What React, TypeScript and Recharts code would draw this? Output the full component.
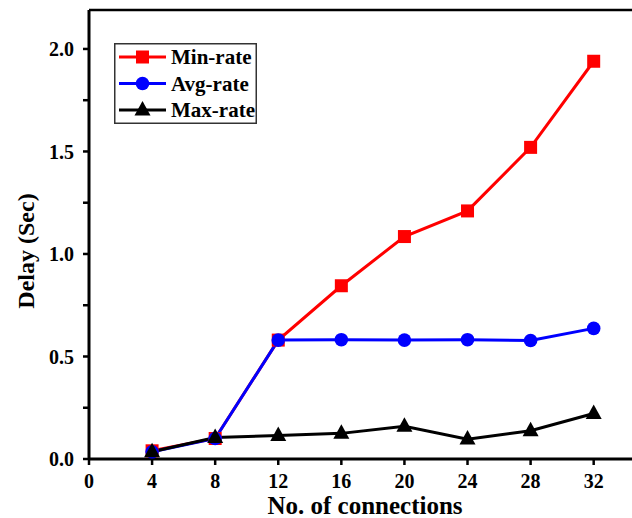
import { LineChart, Line, XAxis, YAxis, ReferenceLine } from "recharts";

const connections = [4, 8, 12, 16, 20, 24, 28, 32];
const minRate = [0.04, 0.1, 0.58, 0.845, 1.085, 1.21, 1.52, 1.94];
const avgRate = [0.035, 0.1, 0.58, 0.582, 0.58, 0.582, 0.578, 0.637];
const maxRate = [0.035, 0.105, 0.115, 0.125, 0.16, 0.097, 0.138, 0.222];

const xTicks = [0, 4, 8, 12, 16, 20, 24, 28, 32];
const yTicks = [0, 0.25, 0.5, 0.75, 1, 1.25, 1.5, 1.75, 2];

const FONT = '"Liberation Serif", "Times New Roman", serif';
const Y_MAX = 2.19;

const data = connections.map((c, i) => ({
  conn: c,
  min: minRate[i],
  avg: avgRate[i],
  max: maxRate[i],
}));

function Marker({ kind, cx, cy }: { kind: string; cx: number; cy: number }) {
  if (kind === "min") {
    return <rect x={cx - 6.5} y={cy - 6.5} width={13} height={13} fill="#ff0000" />;
  }
  if (kind === "avg") {
    return <circle cx={cx} cy={cy} r={6.8} fill="#0000ff" />;
  }
  return (
    <polygon
      points={`${cx},${cy - 9} ${cx - 8},${cy + 5.5} ${cx + 8},${cy + 5.5}`}
      fill="#000"
    />
  );
}

const dotFor = (kind: string) => (props: any) =>
  <Marker key={`${kind}-${props.index}`} kind={kind} cx={props.cx} cy={props.cy} />;

const legendItems = [
  { key: "min", name: "Min-rate", color: "#ff0000" },
  { key: "avg", name: "Avg-rate", color: "#0000ff" },
  { key: "max", name: "Max-rate", color: "#000" },
];

function LegendBox() {
  return (
    <svg width={143} height={81} style={{ display: "block" }}>
      <rect x={0.75} y={0.75} width={141.5} height={79.5} fill="#fff" stroke="#333" strokeWidth={1.5} />
      {legendItems.map((it, i) => {
        const y = 14 + i * 26.5;
        return (
          <g key={it.key}>
            <line x1={5} x2={52} y1={y} y2={y} stroke={it.color} strokeWidth={3} />
            <Marker kind={it.key} cx={28.5} cy={y} />
            <text
              x={57}
              y={y}
              dy="0.35em"
              fontFamily={FONT}
              fontWeight="bold"
              fontSize={21}
              fill="#000"
            >
              {it.name}
            </text>
          </g>
        );
      })}
    </svg>
  );
}

export default function App() {
  return (
    <div style={{ position: "absolute", left: 0, top: 0, width: 632, height: 518, overflow: "hidden", background: "#fff" }}>
      <LineChart
        width={650}
        height={518}
        data={data}
        margin={{ top: 10, right: 9, left: 0, bottom: 0 }}
        style={{ fontFamily: FONT }}
      >
        <XAxis
          dataKey="conn"
          type="number"
          domain={[0, 35]}
          ticks={xTicks}
          allowDataOverflow
          height={59}
          tickSize={6}
          tickMargin={9}
          axisLine={{ stroke: "#000", strokeWidth: 3 }}
          tickLine={{ stroke: "#000", strokeWidth: 2.5 }}
          tick={{ fill: "#000", fontSize: 20, fontWeight: "bold", fontFamily: FONT }}
          label={{
            value: "No. of connections",
            position: "insideBottom",
            offset: 4,
            fill: "#000",
            fontSize: 25,
            fontWeight: "bold",
            fontFamily: FONT,
          }}
        />
        <YAxis
          type="number"
          domain={[0, Y_MAX]}
          ticks={yTicks}
          allowDataOverflow
          width={89}
          tickSize={6}
          tickMargin={9}
          interval={0}
          axisLine={{ stroke: "#000", strokeWidth: 3 }}
          tickLine={{ stroke: "#000", strokeWidth: 2.5 }}
          tick={{ fill: "#000", fontSize: 20, fontWeight: "bold", fontFamily: FONT }}
          tickFormatter={(v: number) => (Math.abs(v * 2 - Math.round(v * 2)) < 1e-9 ? v.toFixed(1) : "")}
          label={{
            content: () => (
              <text
                x={26}
                y={251}
                transform="rotate(-90, 26, 251)"
                textAnchor="middle"
                dy="0.35em"
                fontFamily={FONT}
                fontWeight="bold"
                fontSize={24}
                fill="#000"
              >
                Delay (Sec)
              </text>
            ),
          }}
        />
        <ReferenceLine y={Y_MAX} stroke="#000" strokeWidth={2.5} />
        <Line
          dataKey="min"
          name="Min-rate"
          stroke="#ff0000"
          strokeWidth={3}
          dot={dotFor("min")}
          activeDot={false}
          isAnimationActive={false}
        />
        <Line
          dataKey="avg"
          name="Avg-rate"
          stroke="#0000ff"
          strokeWidth={3}
          dot={dotFor("avg")}
          activeDot={false}
          isAnimationActive={false}
        />
        <Line
          dataKey="max"
          name="Max-rate"
          stroke="#000"
          strokeWidth={3}
          dot={dotFor("max")}
          activeDot={false}
          isAnimationActive={false}
        />
      </LineChart>
      <div style={{ position: "absolute", left: 114, top: 43 }}>
        <LegendBox />
      </div>
    </div>
  );
}
